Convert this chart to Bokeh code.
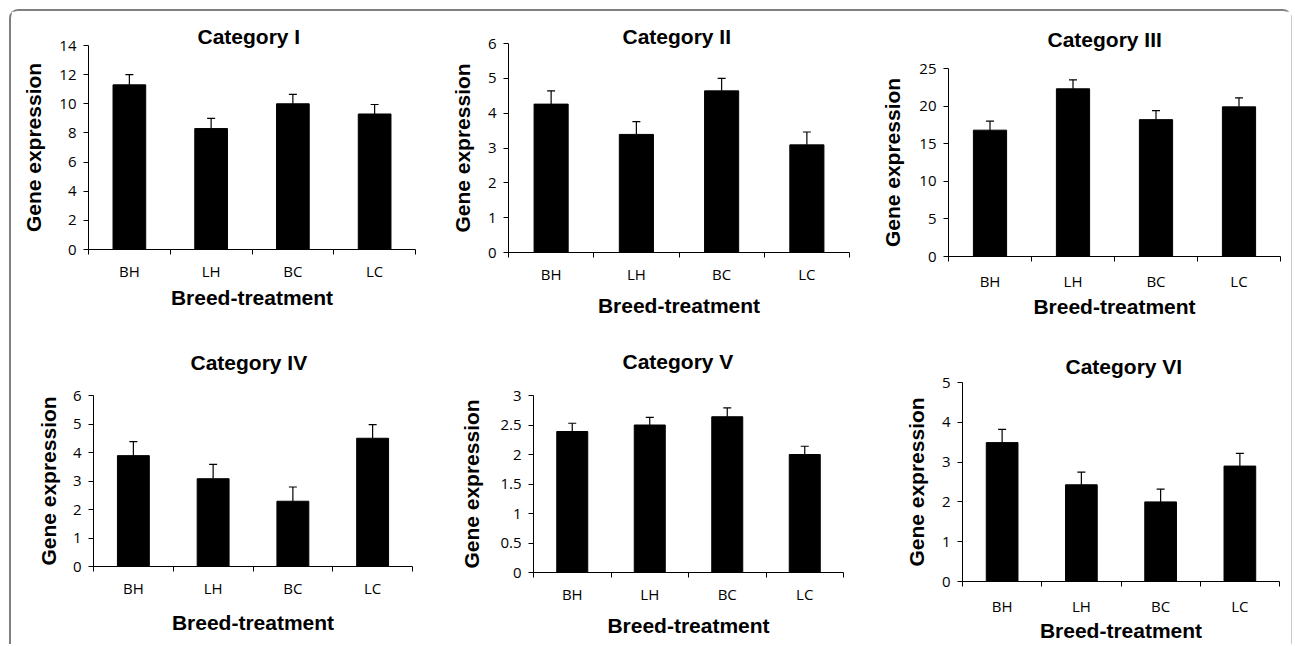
from bokeh.plotting import figure
from bokeh.models import (FactorRange, Range1d, LinearAxis, CategoricalAxis, FixedTicker,
                          ColumnDataSource, Whisker, TeeHead, NumeralTickFormatter)
from bokeh.layouts import row, column
from bokeh.embed import file_html
from bokeh.resources import INLINE

# ---------------- data ----------------
categories = ["BH", "LH", "BC", "LC"]
panel_titles = ["Category I", "Category II", "Category III",
                "Category IV", "Category V", "Category VI"]
x_label = "Breed-treatment"
y_label = "Gene expression"

cat1_values = [11.3, 8.3, 10.0, 9.3]
cat1_errors = [0.7, 0.7, 0.65, 0.65]
cat2_values = [4.26, 3.39, 4.64, 3.09]
cat2_errors = [0.38, 0.37, 0.36, 0.37]
cat3_values = [16.8, 22.3, 18.2, 19.9]
cat3_errors = [1.2, 1.2, 1.2, 1.2]
cat4_values = [3.89, 3.08, 2.29, 4.50]
cat4_errors = [0.49, 0.50, 0.50, 0.48]
cat5_values = [2.39, 2.50, 2.64, 2.00]
cat5_errors = [0.14, 0.13, 0.15, 0.14]
cat6_values = [3.49, 2.43, 2.00, 2.90]
cat6_errors = [0.33, 0.32, 0.32, 0.32]

cat1_ticks = [0, 2, 4, 6, 8, 10, 12, 14]
cat2_ticks = [0, 1, 2, 3, 4, 5, 6]
cat3_ticks = [0, 5, 10, 15, 20, 25]
cat4_ticks = [0, 1, 2, 3, 4, 5, 6]
cat5_ticks = [0, 0.5, 1, 1.5, 2, 2.5, 3]
cat6_ticks = [0, 1, 2, 3, 4, 5]

series = [
    (cat1_values, cat1_errors, cat1_ticks),
    (cat2_values, cat2_errors, cat2_ticks),
    (cat3_values, cat3_errors, cat3_ticks),
    (cat4_values, cat4_errors, cat4_ticks),
    (cat5_values, cat5_errors, cat5_ticks),
    (cat6_values, cat6_errors, cat6_ticks),
]

# ---------------- layout / style ----------------
# w, h, min borders (l, r, t, b), title standoff / left offset / vertical align,
# y-label standoff, x-label standoff, x tick-label standoff
layouts = [
    dict(w=419, h=309, mb=(77, 15, 34, 71), ts=-4, to=109, tv="bottom", ys=11, xs=2, ls=0),
    dict(w=430, h=309, mb=(78, 11, 32, 68), ts=-9, to=114, tv="bottom", ys=11, xs=7, ls=0),
    dict(w=431, h=309, mb=(88, 11, 57, 62), ts=31, to=99, tv="top", ys=12, xs=1, ls=3),
    dict(w=419, h=324, mb=(82, 18, 75, 78), ts=43, to=97, tv="bottom", ys=10, xs=10, ls=0),
    dict(w=430, h=324, mb=(103, 17, 75, 72), ts=46, to=89, tv="bottom", ys=14, xs=7, ls=0),
    dict(w=431, h=324, mb=(102, 12, 62, 61), ts=10, to=103, tv="bottom", ys=11, xs=0, ls=3),
]

BOLD_FONT = "Liberation Sans"
TICK_FONT = "Open Sans"
BOLD_SIZE = "21px"
TICK_SIZE = "15px"


def make_panel(title, values, errors, ticks, lay):
    src = ColumnDataSource(dict(
        cat=categories,
        value=values,
        upper=[v + e for v, e in zip(values, errors)],
    ))
    ml, mr, mt, mbt = lay["mb"]
    p = figure(
        x_range=FactorRange(*categories, range_padding=0, factor_padding=0),
        y_range=Range1d(ticks[0], ticks[-1]),
        width=lay["w"], height=lay["h"],
        x_axis_type=None, y_axis_type=None,
        output_backend="svg", toolbar_location=None,
        min_border_left=ml, min_border_right=mr,
        min_border_top=mt, min_border_bottom=mbt,
        title=title,
    )
    p.frame_align = False
    p.outline_line_color = None
    p.background_fill_color = "white"
    p.border_fill_color = "white"

    p.title.align = "left"
    p.title.vertical_align = lay["tv"]
    p.title.text_font = BOLD_FONT
    p.title.text_font_size = BOLD_SIZE
    p.title.text_font_style = "bold"
    p.title.text_color = "black"
    p.title.standoff = lay["ts"]
    p.title.offset = lay["to"]

    # y axis
    yax = LinearAxis(
        ticker=FixedTicker(ticks=ticks),
        formatter=NumeralTickFormatter(format="0.[0]"),
        axis_label=y_label,
        axis_label_text_font=BOLD_FONT,
        axis_label_text_font_size=BOLD_SIZE,
        axis_label_text_font_style="bold",
        axis_label_text_color="black",
        axis_label_standoff=lay["ys"],
        major_label_text_font=TICK_FONT,
        major_label_text_font_size=TICK_SIZE,
        major_label_text_color="black",
        major_label_standoff=7,
        major_tick_in=0, major_tick_out=5,
        minor_tick_line_color=None,
        axis_line_color="black", major_tick_line_color="black",
    )
    p.add_layout(yax, "left")

    # x axis line with ticks on the category boundaries
    bnd = LinearAxis(
        ticker=FixedTicker(ticks=list(range(len(categories) + 1))),
        major_label_text_font_size="0px",
        major_label_text_color=None,
        major_label_standoff=0,
        major_tick_in=0, major_tick_out=5,
        minor_tick_line_color=None,
        axis_line_color="black", major_tick_line_color="black",
    )
    p.add_layout(bnd, "below")
    # category names + axis title
    cax = CategoricalAxis(
        axis_line_color=None,
        major_tick_line_color=None,
        major_label_text_font=TICK_FONT,
        major_label_text_font_size=TICK_SIZE,
        major_label_text_color="black",
        major_label_standoff=lay["ls"],
        axis_label=x_label,
        axis_label_text_font=BOLD_FONT,
        axis_label_text_font_size=BOLD_SIZE,
        axis_label_text_font_style="bold",
        axis_label_text_color="black",
        axis_label_standoff=lay["xs"],
    )
    p.add_layout(cax, "below")

    p.vbar(x="cat", top="value", width=0.4, source=src,
           fill_color="black", line_color="black", line_width=1)
    wh = Whisker(source=src, base="cat", upper="upper", lower="value",
                 line_color="black", line_width=1.2,
                 upper_head=TeeHead(size=8, line_color="black", line_width=1.2),
                 lower_head=None)
    p.add_layout(wh)
    return p


panels = [make_panel(t, v, e, tk, lay)
          for t, (v, e, tk), lay in zip(panel_titles, series, layouts)]

top_row = row(*panels[:3])
bottom_row = row(*panels[3:])
page = column(
    top_row, bottom_row,
    margin=(9, 0, 0, 9),
    styles={
        "border-top": "2px solid #808080",
        "border-left": "2px solid #808080",
        "border-right": "1px solid #c8c8c8",
        "border-top-left-radius": "9px",
        "border-top-right-radius": "9px",
    },
)

open("out.html", "w").write(file_html(page, INLINE))
